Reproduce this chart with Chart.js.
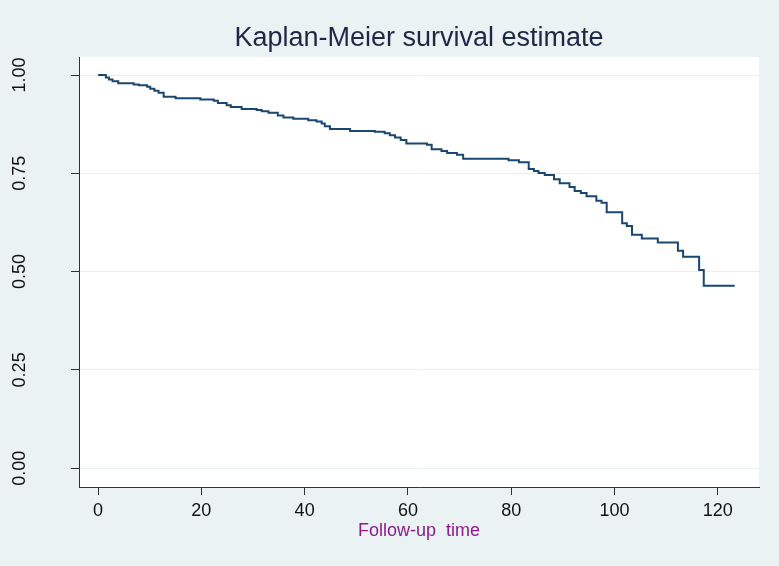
<!DOCTYPE html>
<html lang="en">
<head>
    <meta charset="UTF-8">
    <title>Kaplan-Meier survival estimate</title>
    <script src="https://cdn.jsdelivr.net/npm/chart.js@4.4.1/dist/chart.umd.min.js"></script>
    <style>
        html, body { margin: 0; padding: 0; background: #EAF2F3; }
        canvas { display: block; }
    </style>
</head>
<body>
    <canvas id="km" width="779" height="566"></canvas>

    <script>
        // follow-up time at each step, and the survival estimate after it
        const times = [0, 1.5, 2.1, 2.8, 3.9, 6.9, 7.9, 9.5, 10.1, 10.9, 11.7, 12.7, 15.0, 19.8, 22.4, 23.2,
            24.9, 25.7, 27.8, 30.7, 31.7, 33.0, 34.8, 35.9, 37.8, 40.7, 42.3, 43.3, 43.9, 44.9,
            48.8, 53.6, 55.5, 56.5, 57.5, 58.6, 59.7, 63.7, 64.6, 66.5, 67.6, 69.5, 70.7,
            79.5, 81.5, 83.4, 84.4, 85.3, 86.5, 88.3, 89.4, 91.3, 92.3, 93.5, 94.6,
            96.5, 97.5, 98.5, 101.5, 102.4, 103.4, 105.3, 108.4, 112.3, 113.3, 116.4, 117.3, 123.3];
        const survival = [1.000, 0.994, 0.989, 0.984, 0.979, 0.976, 0.974, 0.970, 0.965, 0.960, 0.955, 0.945, 0.941, 0.938, 0.935, 0.929,
            0.923, 0.919, 0.914, 0.911, 0.908, 0.904, 0.897, 0.892, 0.889, 0.885, 0.882, 0.877, 0.870, 0.863,
            0.858, 0.856, 0.852, 0.847, 0.841, 0.835, 0.826, 0.823, 0.811, 0.807, 0.802, 0.797, 0.787,
            0.783, 0.778, 0.761, 0.756, 0.751, 0.746, 0.735, 0.725, 0.715, 0.705, 0.700, 0.692,
            0.680, 0.675, 0.651, 0.623, 0.616, 0.594, 0.584, 0.574, 0.553, 0.538, 0.504, 0.464, 0.464];
        const xTicks = [0, 20, 40, 60, 80, 100, 120];
        const yTicks = [0, 0.25, 0.5, 0.75, 1];
        const yLabels = ["0.00", "0.25", "0.50", "0.75", "1.00"];

        const FONT = "'Liberation Sans', Arial, sans-serif";

        const stataLook = {
            id: 'stataLook',
            beforeDraw(chart) {
                const c = chart.ctx, a = chart.chartArea;
                c.save();
                c.fillStyle = '#EAF2F3';
                c.fillRect(0, 0, chart.width, chart.height);
                c.fillStyle = '#FFFFFF';
                c.fillRect(a.left, a.top, a.right - a.left, a.bottom - a.top);
                c.restore();
            },
            afterDraw(chart) {
                const c = chart.ctx, a = chart.chartArea;
                const y = chart.scales.y;
                const mid = (a.left + a.right) / 2;
                c.save();
                c.textAlign = 'center';
                c.textBaseline = 'middle';
                // title
                c.fillStyle = '#1E2845';
                c.font = '27px ' + FONT;
                c.fillText('Kaplan-Meier survival estimate', mid, 39);
                // x axis title
                c.fillStyle = '#8C1A8C';
                c.font = '18px ' + FONT;
                c.fillText('Follow-up  time', mid, 531);
                // rotated y labels
                c.fillStyle = '#111111';
                c.font = '18px ' + FONT;
                yTicks.forEach((v, i) => {
                    c.save();
                    c.translate(20, y.getPixelForValue(v));
                    c.rotate(-Math.PI / 2);
                    c.fillText(yLabels[i], 0, 0);
                    c.restore();
                });
                c.restore();
            }
        };

        const points = times.map((t, i) => ({ x: t, y: survival[i] }));

        new Chart(document.getElementById('km'), {
            type: 'line',
            data: {
                datasets: [{
                    data: points,
                    stepped: true,
                    borderColor: '#1A476F',
                    borderWidth: 2,
                    pointRadius: 0,
                    fill: false
                }]
            },
            options: {
                responsive: false,
                animation: false,
                layout: { padding: { top: 57, right: 20, left: 0, bottom: 0 } },
                plugins: { legend: { display: false }, tooltip: { enabled: false }, title: { display: false } },
                scales: {
                    x: {
                        type: 'linear',
                        min: -3.7,
                        max: 128,
                        afterBuildTicks: s => { s.ticks = xTicks.map(v => ({ value: v })); },
                        afterFit: s => { s.height = 79; },
                        grid: { drawOnChartArea: false, tickLength: 8, tickColor: '#333333', tickWidth: 1 },
                        border: { color: '#333333', width: 1 },
                        ticks: { font: { family: FONT, size: 18 }, color: '#111111', padding: 5, maxRotation: 0 }
                    },
                    y: {
                        type: 'linear',
                        min: -0.048,
                        max: 1.046,
                        afterBuildTicks: s => { s.ticks = yTicks.map(v => ({ value: v })); },
                        afterFit: s => { s.width = 79; },
                        grid: { color: '#E6EEF0', lineWidth: 1, tickLength: 8, tickColor: '#333333', tickWidth: 1 },
                        border: { color: '#333333', width: 1 },
                        ticks: { display: false }
                    }
                }
            },
            plugins: [stataLook]
        });
    </script>
</body>
</html>
